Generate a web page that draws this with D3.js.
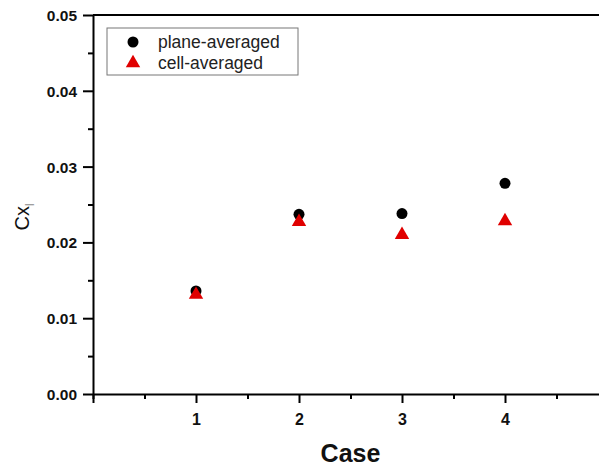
<!DOCTYPE html>
<html>
<head>
<meta charset="utf-8">
<script src="https://cdn.jsdelivr.net/npm/d3@7"></script>
<style>
  body { margin: 0; background: #fff; }
  svg { display: block; font-family: "Liberation Sans", Arial, sans-serif; }
</style>
</head>
<body>
<div id="chart"></div>
<script>
// data
var cases = [1, 2, 3, 4];
var planeAveraged = [0.0136, 0.0237, 0.0238, 0.0278];
var cellAveraged = [0.0131, 0.0227, 0.0210, 0.0228];
var yTicks = [0, 0.01, 0.02, 0.03, 0.04, 0.05];
var xTicks = [1, 2, 3, 4];

var width = 599, height = 469;
var margin = { left: 93, top: 15 };

var svg = d3.select("#chart").append("svg")
    .attr("width", width)
    .attr("height", height);

var x = d3.scaleLinear().domain([0, 5]).range([margin.left, margin.left + 515]);
var y = d3.scaleLinear().domain([0, 0.05]).range([394, margin.top]);

// minor ticks first, then major ones on top
svg.append("g")
    .attr("transform", "translate(" + margin.left + ",0)")
    .call(d3.axisLeft(y).tickValues(d3.range(0.005, 0.05, 0.01)).tickSize(5).tickFormat(""))
    .call(function(g) { g.select(".domain").remove(); });

svg.append("g")
    .attr("transform", "translate(0,394)")
    .call(d3.axisBottom(x).tickValues([0, 0.5, 1.5, 2.5, 3.5, 4.5]).tickSize(5).tickFormat(""))
    .call(function(g) { g.select(".domain").remove(); });

var yAxis = svg.append("g")
    .attr("transform", "translate(" + margin.left + ",0)")
    .call(d3.axisLeft(y).tickValues(yTicks).tickSize(10).tickSizeOuter(0).tickFormat(d3.format(".2f")));

var xAxis = svg.append("g")
    .attr("transform", "translate(0,394)")
    .call(d3.axisBottom(x).tickValues([0].concat(xTicks)).tickSize(9).tickSizeOuter(0)
      .tickFormat(function(d) { return d === 0 ? "" : d; }));

// top frame line
svg.append("line")
    .attr("x1", margin.left).attr("x2", width)
    .attr("y1", y(0.05)).attr("y2", y(0.05))
    .attr("stroke", "#000").attr("stroke-width", 2);

svg.selectAll(".tick line, .domain").attr("stroke", "#000").attr("stroke-width", 2);
yAxis.selectAll(".tick text").attr("font-size", 15.5).attr("font-weight", "bold")
    .attr("fill", "#111").attr("dx", "-3").attr("dy", "0.35em");
xAxis.selectAll(".tick text").attr("font-size", 16).attr("font-weight", "bold")
    .attr("fill", "#111").attr("dy", "1.2em");

// axis titles
svg.append("text")
    .attr("x", x(2.5)).attr("y", 462)
    .attr("text-anchor", "middle")
    .attr("font-size", 25).attr("font-weight", "bold")
    .attr("fill", "#111")
    .text("Case");

var yl = svg.append("text")
    .attr("transform", "translate(29,217) rotate(-90)")
    .attr("text-anchor", "middle")
    .attr("font-size", 20)
    .attr("fill", "#111");
yl.append("tspan").text("Cx");
yl.append("tspan").attr("font-size", 12).attr("dy", 5).attr("fill", "#888").text("l");

// markers
svg.selectAll("circle.plane")
    .data(cases)
    .enter().append("circle")
    .attr("class", "plane")
    .attr("cx", function(d) { return x(d); })
    .attr("cy", function(d, i) { return y(planeAveraged[i]); })
    .attr("r", 5.5)
    .attr("fill", "#000");

var tri = d3.symbol().type(d3.symbolTriangle).size(90);
svg.selectAll("path.cell")
    .data(cases)
    .enter().append("path")
    .attr("class", "cell")
    .attr("d", tri)
    .attr("transform", function(d, i) { return "translate(" + x(d) + "," + y(cellAveraged[i]) + ")"; })
    .attr("fill", "#e00000");

// legend
var legend = svg.append("g");
legend.append("rect")
    .attr("x", 107).attr("y", 28)
    .attr("width", 191).attr("height", 47)
    .attr("fill", "#fff").attr("stroke", "#777").attr("stroke-width", 1);
legend.append("circle").attr("cx", 133).attr("cy", 42).attr("r", 5.5).attr("fill", "#000");
legend.append("path").attr("d", tri).attr("transform", "translate(133,63)").attr("fill", "#e00000");
legend.append("text").attr("x", 158).attr("y", 48).attr("font-size", 17.5).attr("fill", "#222").text("plane-averaged");
legend.append("text").attr("x", 158).attr("y", 69).attr("font-size", 17.5).attr("fill", "#222").text("cell-averaged");
</script>
</body>
</html>
